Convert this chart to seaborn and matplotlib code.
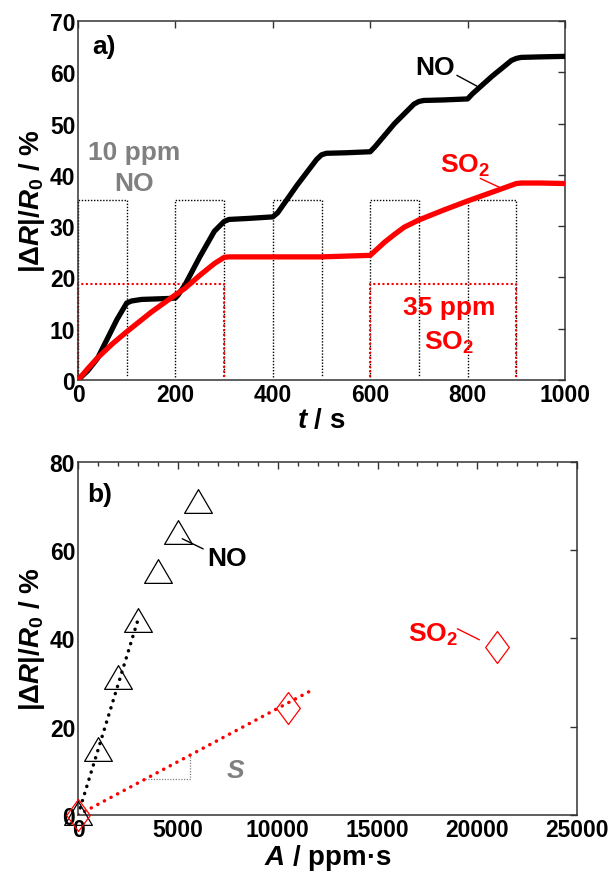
import numpy as np
import pandas as pd
import matplotlib
matplotlib.use("Agg")
import matplotlib.pyplot as plt
from matplotlib.path import Path
import seaborn as sns

# ---------------- data: panel a ----------------
t_no = [0, 20, 40, 60, 80, 100, 110, 130, 160, 190, 200, 205, 220, 250, 280, 300, 310, 350, 400,
        410, 450, 490, 500, 510, 550, 600, 610, 650, 690, 700, 710, 750, 800, 810, 850, 890, 900,
        910, 950, 1000]
r_no = [0, 1.8, 4.2, 8.0, 11.8, 15.0, 15.4, 15.7, 15.8, 15.9, 16.0, 16.5, 18.6, 24.0, 29.0, 30.9,
        31.3, 31.5, 31.8, 32.6, 38.0, 43.0, 43.9, 44.2, 44.3, 44.5, 45.5, 50.0, 53.8, 54.3, 54.5,
        54.6, 54.8, 55.8, 59.2, 62.3, 62.7, 62.9, 63.0, 63.1]
t_so2 = [0, 20, 40, 70, 100, 150, 200, 220, 250, 280, 300, 310, 400, 500, 600, 615, 630, 650, 670,
         700, 750, 800, 850, 900, 910, 950, 1000]
r_so2 = [0, 2.2, 4.3, 7.0, 9.4, 13.2, 16.6, 17.9, 20.4, 22.7, 23.9, 24.0, 24.0, 24.0, 24.3, 25.6,
         26.9, 28.4, 29.8, 31.2, 33.1, 34.9, 36.6, 38.3, 38.4, 38.4, 38.3]
no_pulse_start = [0, 200, 400, 600, 800]
no_pulse_end = [100, 300, 500, 700, 900]
no_pulse_level = 35.0
so2_pulse_start = [0, 600]
so2_pulse_end = [300, 900]
so2_pulse_level = 18.7
pulse_base = 0.6

# ---------------- data: panel b ----------------
A_no = [0, 1000, 2000, 3000, 4000, 5000, 6000]
R_no = [0.5, 14.9, 31.2, 44.2, 55.2, 64.1, 71.1]
A_so2 = [0, 10500, 21000]
R_so2 = [0, 24.2, 38.0]
fit_no_A = [0, 3000]
fit_no_R = [0, 44.2]
fit_so2_A = [0, 11550]
fit_so2_R = [0, 27.9]
slope_A = [3350, 5600, 5600]
slope_R = [8.2, 8.2, 13.6]

# ---------------- style ----------------
sns.set_style("white")
plt.rcParams["font.family"] = ["Liberation Sans", "DejaVu Sans"]
plt.rcParams["font.weight"] = "bold"
plt.rcParams["text.color"] = "black"
plt.rcParams["axes.labelcolor"] = "black"
plt.rcParams["xtick.color"] = "black"
plt.rcParams["ytick.color"] = "black"
plt.rcParams["mathtext.fontset"] = "custom"
plt.rcParams["mathtext.rm"] = "Liberation Sans:bold"
plt.rcParams["mathtext.bf"] = "Liberation Sans:bold"
plt.rcParams["mathtext.it"] = "Liberation Sans:italic:bold"
plt.rcParams["mathtext.default"] = "rm"

RED = "#ff0000"
GRAY = "#808080"
TICK_FS = 16.5
LAB_FS = 20
TXT_FS = 19

fig = plt.figure(figsize=(6.11, 8.79), dpi=100)
ax1 = fig.add_axes([0.1277, 0.5666, 0.797, 0.4084])
ax2 = fig.add_axes([0.1277, 0.0717, 0.817, 0.4016])

def style_axes(ax):
    for s in ax.spines.values():
        s.set_color("#333333")
        s.set_linewidth(1.1)
        s.set_visible(True)
    ax.tick_params(which="both", direction="in", top=True, right=True,
                   labelsize=TICK_FS, pad=2, color="#333333", labelcolor="black")
    ax.tick_params(which="major", length=5, width=1)
    ax.tick_params(which="minor", length=3, width=1)
    for lab in ax.get_xticklabels() + ax.get_yticklabels():
        lab.set_fontweight("bold")

YLAB = r"$|\Delta\mathit{R}|/\mathit{R}_\mathrm{0}$ / %"

# ---------------- panel a ----------------
def draw_pulses(ax, starts, ends, level, color, lw):
    for s, e in zip(starts, ends):
        ax.plot([s, s, e, e], [pulse_base, level, level, pulse_base], color=color,
                linestyle=(0, (1, 1.2)), linewidth=lw, zorder=1, clip_on=False)

draw_pulses(ax1, no_pulse_start, no_pulse_end, no_pulse_level, "black", 1.0)
draw_pulses(ax1, so2_pulse_start, so2_pulse_end, so2_pulse_level, RED, 1.5)

df_no = pd.DataFrame({"t": t_no, "r": r_no})
df_so2 = pd.DataFrame({"t": t_so2, "r": r_so2})
sns.lineplot(data=df_no, x="t", y="r", ax=ax1, color="black", linewidth=3.8, zorder=3)
sns.lineplot(data=df_so2, x="t", y="r", ax=ax1, color=RED, linewidth=3.8, zorder=4)

ax1.set_xlim(0, 1000)
ax1.set_ylim(0, 70)
ax1.set_xticks(np.arange(0, 1001, 200))
ax1.set_yticks(np.arange(0, 71, 10))
style_axes(ax1)
ax1.set_xlabel(r"$\mathit{t}$ / s", fontsize=LAB_FS, fontweight="bold", labelpad=1, color="black")
ax1.set_ylabel(YLAB, fontsize=LAB_FS, fontweight="bold", labelpad=2, color="black")

ax1.text(53, 65.2, "a)", fontsize=TXT_FS, fontweight="bold", ha="center", va="center", color="black")
ax1.text(733, 61, "NO", fontsize=TXT_FS, fontweight="bold", ha="center", va="center", color="black")
ax1.plot([778, 819], [59.4, 57.3], color="black", linewidth=1)
ax1.text(795, 42, r"SO$_2$", fontsize=TXT_FS, fontweight="bold", ha="center", va="center", color=RED)
ax1.plot([826, 869], [39.3, 37.4], color=RED, linewidth=1)
ax1.text(115, 44.5, "10 ppm", fontsize=TXT_FS, fontweight="bold", ha="center", va="center",
         color=GRAY)
ax1.text(115, 38.5, "NO", fontsize=TXT_FS, fontweight="bold", ha="center", va="center",
         color=GRAY)
ax1.text(762, 14.3, "35 ppm", fontsize=TXT_FS, fontweight="bold", ha="center", va="center", color=RED)
ax1.text(762, 7.4, r"SO$_2$", fontsize=TXT_FS, fontweight="bold", ha="center", va="center", color=RED)

# ---------------- panel b ----------------
tri = Path([(0, 0.5), (-0.585, -0.5), (0.585, -0.5), (0, 0.5)],
           [Path.MOVETO, Path.LINETO, Path.LINETO, Path.CLOSEPOLY])
dia = Path([(0, 0.5), (0.37, 0), (0, -0.5), (-0.37, 0), (0, 0.5)],
           [Path.MOVETO, Path.LINETO, Path.LINETO, Path.LINETO, Path.CLOSEPOLY])

dots = (0, (0.05, 2.1))
df_fno = pd.DataFrame({"A": fit_no_A, "R": fit_no_R})
df_fso2 = pd.DataFrame({"A": fit_so2_A, "R": fit_so2_R})
sns.lineplot(data=df_fno, x="A", y="R", ax=ax2, color="black", linewidth=2.5,
             linestyle=dots, dash_capstyle="round", zorder=2)
sns.lineplot(data=df_fso2, x="A", y="R", ax=ax2, color=RED, linewidth=2.5,
             linestyle=dots, dash_capstyle="round", zorder=2)
ax2.plot(slope_A, slope_R, color=GRAY, linewidth=0.9, linestyle=(0, (1, 1.2)), zorder=1)

df_bno = pd.DataFrame({"A": A_no, "R": R_no})
df_bso2 = pd.DataFrame({"A": A_so2, "R": R_so2})
sns.lineplot(data=df_bno, x="A", y="R", ax=ax2, linestyle="", marker=tri, markersize=20,
             markerfacecolor="none", markeredgecolor="black", markeredgewidth=0.9,
             color="black", estimator=None, zorder=3, clip_on=False)
sns.lineplot(data=df_bso2, x="A", y="R", ax=ax2, linestyle="", marker=dia, markersize=23,
             markerfacecolor="none", markeredgecolor=RED, markeredgewidth=0.9,
             color=RED, estimator=None, zorder=3, clip_on=False)

ax2.set_xlim(0, 25000)
ax2.set_ylim(0, 80)
ax2.set_xticks(np.arange(0, 25001, 5000))
ax2.set_xticks(np.arange(0, 25001, 1000), minor=True)
ax2.set_yticks(np.arange(0, 81, 20))
style_axes(ax2)
ax2.set_xlabel(r"$\mathit{A}$ / ppm·s", fontsize=LAB_FS, fontweight="bold", labelpad=1, color="black")
ax2.set_ylabel(YLAB, fontsize=LAB_FS, fontweight="bold", labelpad=2, color="black")

ax2.text(1100, 72.7, "b)", fontsize=TXT_FS, fontweight="bold", ha="center", va="center", color="black")
ax2.text(7460, 58.2, "NO", fontsize=TXT_FS, fontweight="bold", ha="center", va="center", color="black")
ax2.plot([5220, 6270], [62.6, 60.3], color="black", linewidth=1)
ax2.text(17750, 41.0, r"SO$_2$", fontsize=TXT_FS, fontweight="bold", ha="center", va="center",
         color=RED)
ax2.plot([19000, 20100], [42.2, 39.7], color=RED, linewidth=1)
ax2.text(7880, 10.3, "S", fontsize=TXT_FS, fontweight="bold", fontstyle="italic", ha="center",
         va="center", color=GRAY)

for ax in (ax1, ax2):
    leg = ax.get_legend()
    if leg is not None:
        leg.remove()

fig.savefig("out.png", dpi=100)
